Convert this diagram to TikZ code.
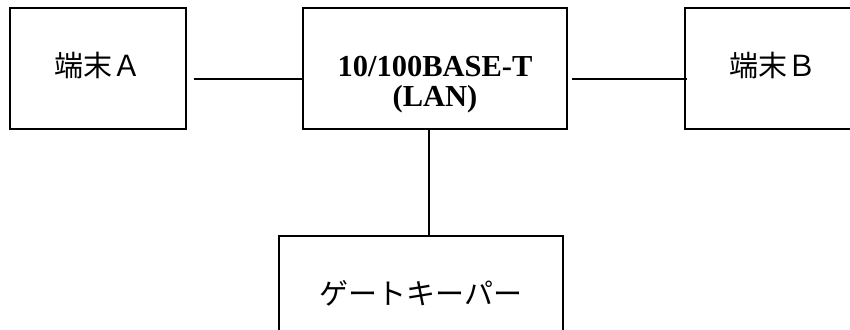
\documentclass[tikz,border=0pt]{standalone}
\usepackage{fontspec}
\setmainfont{Liberation Serif}
\newfontfamily\jpfont{Noto Sans CJK JP}
\tikzset{
  box/.style={draw=black, line width=1.5pt, rectangle, inner sep=0pt,
    minimum height=121pt},
  jptext/.style={font=\jpfont\fontsize{29}{32}\selectfont, inner sep=0pt},
  lantext/.style={font=\fontsize{30.5}{30}\selectfont\bfseries, align=center, inner sep=0pt},
  link/.style={draw=black, line width=1.5pt}
}
\begin{document}
\begin{tikzpicture}[x=1pt,y=-1pt]
  \useasboundingbox (0,0) rectangle (850,329);
  \fill[white] (0,0) rectangle (850,329);
  \clip (0,0) rectangle (850,329);
  % terminals, LAN and gatekeeper
  \node[box, minimum width=176pt] (ta) at (98,68.5) {};
  \node[box, minimum width=264pt] (lan) at (435,68.5) {};
  \node[box, minimum width=176pt] (tb) at (773,68.5) {};
  \node[box, minimum width=284pt] (gk) at (421,296.5) {};
  % labels
  \node[jptext] (talabel) at ([yshift=3pt]ta.center) {端末Ａ};
  \node[lantext] (lanlabel) at ([yshift=-16.5pt]lan.center) {10/100BASE-T\\(LAN)};
  \node[jptext] (tblabel) at ([yshift=3pt]tb.center) {端末Ｂ};
  \node[jptext] (gklabel) at ([yshift=3pt]gk.center) {ゲートキーパー};
  % connections
  \draw[link] ([xshift=7pt,yshift=-10.5pt]ta.east) -- ([yshift=-10.5pt]lan.west);
  \draw[link] ([xshift=4pt,yshift=-10.5pt]lan.east) -- ([xshift=3pt,yshift=-10.5pt]tb.west);
  \draw[link] ([xshift=-6pt]lan.south) -- ([xshift=-6pt]lan.south |- gk.north);
\end{tikzpicture}
\end{document}
